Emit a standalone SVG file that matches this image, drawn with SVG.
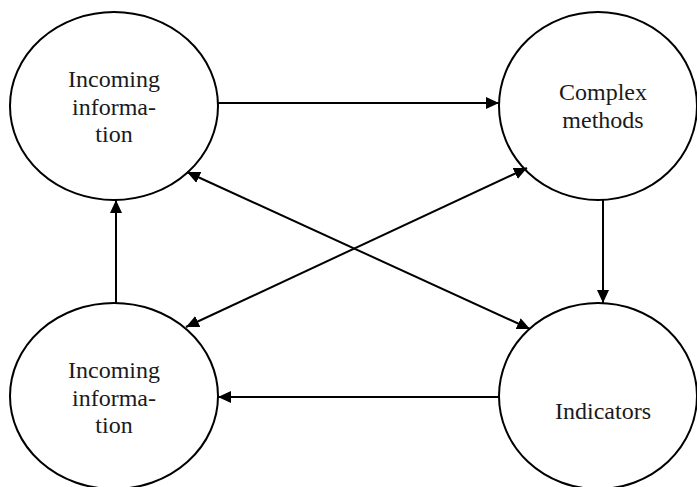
<svg xmlns="http://www.w3.org/2000/svg" width="697" height="487" viewBox="0 0 697 487">
<style>
.node ellipse{fill:#fff;stroke:#000;stroke-width:2}
.node text{font-size:24px;fill:#1a1a1a;text-anchor:middle}
.edge line{stroke:#000;stroke-width:2;fill:none}
</style>
<defs>
<marker id="ah" viewBox="0 0 13 12" refX="13" refY="6" markerWidth="13" markerHeight="12" markerUnits="userSpaceOnUse" orient="auto-start-reverse">
<path d="M0,0 L13,6 L0,12 z" fill="#000"/>
</marker>
</defs>
<rect width="697" height="487" fill="#fff"/>
<g font-family="Liberation Serif, DejaVu Serif, serif">
<g id="n-incoming-top" class="node">
<ellipse cx="114" cy="106" rx="104" ry="94"/>
<text x="114" y="87">Incoming</text>
<text x="114" y="115">informa-</text>
<text x="114" y="142">tion</text>
</g>
<g id="n-complex" class="node">
<ellipse cx="598" cy="106" rx="99" ry="94"/>
<text x="603" y="100">Complex</text>
<text x="603" y="128">methods</text>
</g>
<g id="n-incoming-bottom" class="node">
<ellipse cx="114" cy="396" rx="104" ry="93"/>
<text x="114" y="378">Incoming</text>
<text x="114" y="406">informa-</text>
<text x="114" y="433">tion</text>
</g>
<g id="n-indicators" class="node">
<ellipse cx="598" cy="396" rx="99" ry="93"/>
<text x="603" y="419">Indicators</text>
</g>
</g>
<g id="connectors" class="edge">
<line x1="218" y1="103" x2="499" y2="103" marker-end="url(#ah)"/>
<line x1="603" y1="200" x2="603" y2="303" marker-end="url(#ah)"/>
<line x1="116" y1="303" x2="116" y2="200" marker-end="url(#ah)"/>
<line x1="499" y1="397" x2="218" y2="397" marker-end="url(#ah)"/>
<line x1="187" y1="172" x2="530" y2="329" marker-start="url(#ah)" marker-end="url(#ah)"/>
<line x1="527" y1="168" x2="186" y2="327" marker-start="url(#ah)" marker-end="url(#ah)"/>
</g>
</svg>
